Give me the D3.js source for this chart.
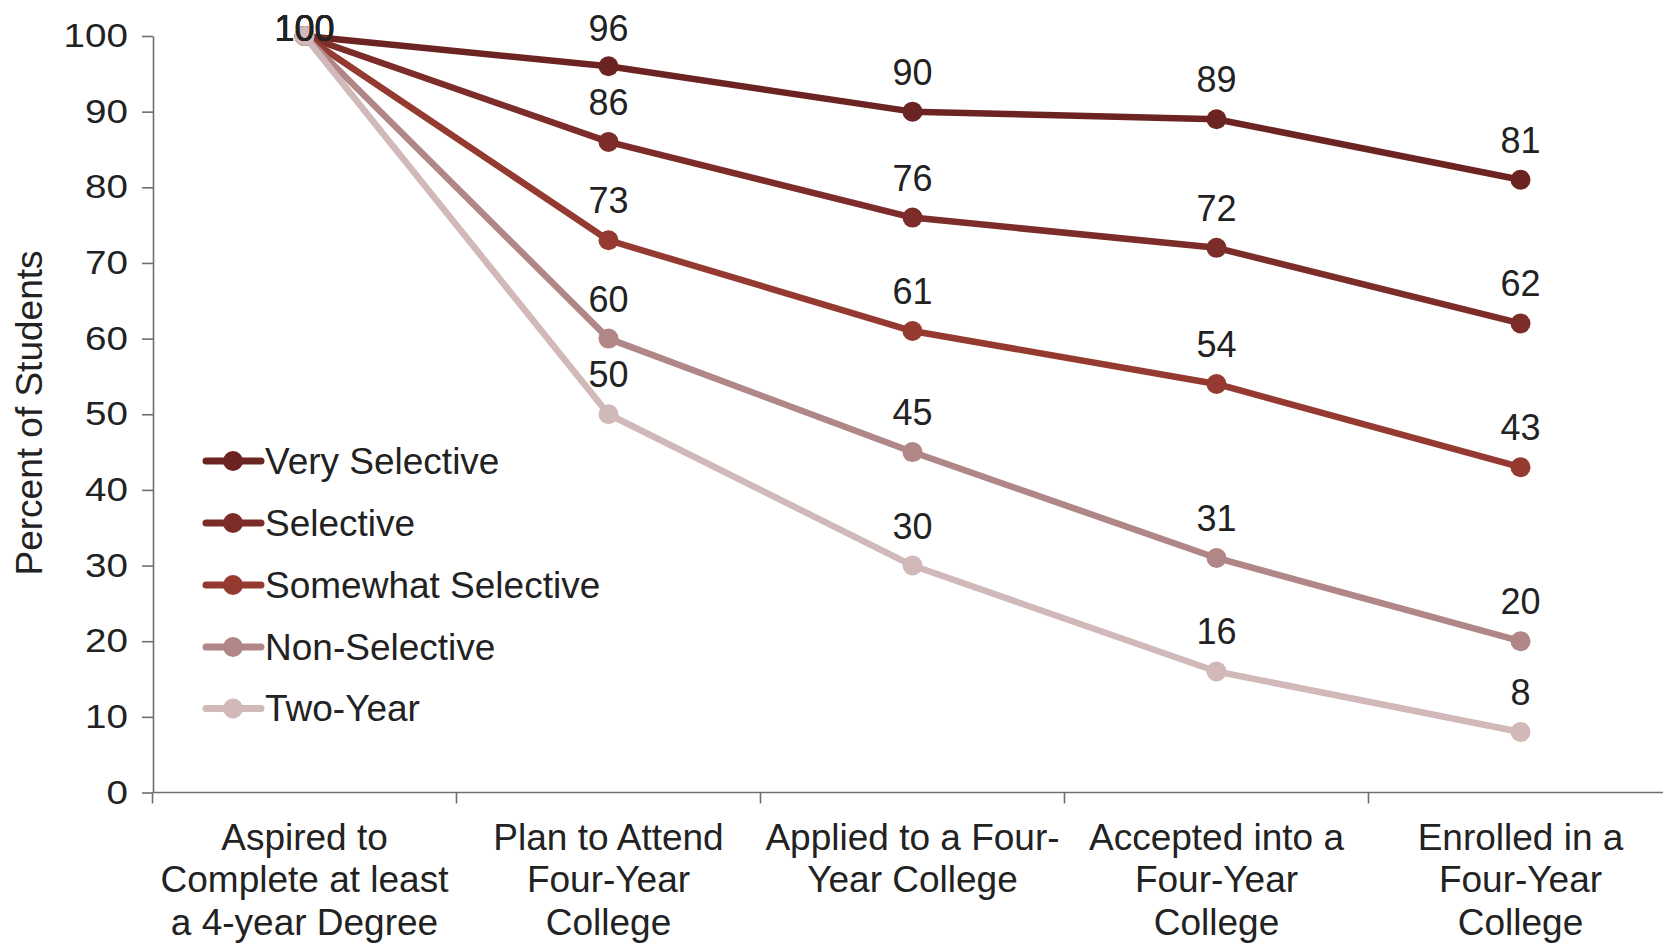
<!DOCTYPE html>
<html>
<head>
<meta charset="utf-8">
<script src="https://cdn.jsdelivr.net/npm/d3@7"></script>
<style>
  html, body { margin: 0; padding: 0; background: #fff; }
  svg { display: block; font-family: "Liberation Sans", Arial, sans-serif; }
</style>
</head>
<body>
<svg id="chart" width="1663" height="943"></svg>
<script>
// ---- data ----
const categories = ["c1", "c2", "c3", "c4", "c5"];
const categoryLabels = [
  ["Aspired to", "Complete at least", "a 4-year Degree"],
  ["Plan to Attend", "Four-Year", "College"],
  ["Applied to a Four-", "Year College"],
  ["Accepted into a", "Four-Year", "College"],
  ["Enrolled in a", "Four-Year", "College"]
];
const seriesNames = ["Very Selective", "Selective", "Somewhat Selective", "Non-Selective", "Two-Year"];
const verySelective      = [100, 96, 90, 89, 81];
const selective          = [100, 86, 76, 72, 62];
const somewhatSelective  = [100, 73, 61, 54, 43];
const nonSelective       = [100, 60, 45, 31, 20];
const twoYear            = [100, 50, 30, 16, 8];
const seriesColors = ["#6c2422", "#7c2d29", "#953a30", "#b08686", "#d0b9b8"];
const yTicks = [0, 10, 20, 30, 40, 50, 60, 70, 80, 90, 100];
const yTitle = "Percent of Students";

const seriesValues = [verySelective, selective, somewhatSelective, nonSelective, twoYear];
const series = seriesNames.map((name, i) => ({
  name, color: seriesColors[i],
  values: seriesValues[i].map((v, j) => ({ cat: categories[j], v }))
}));

// ---- layout ----
const svg = d3.select("#chart");
const x = d3.scaleBand().domain(categories).range([152.5, 1672.5]).padding(0);
const y = d3.scaleLinear().domain([0, 100]).range([792.5, 36]);
const cx = d => x(d) + x.bandwidth() / 2;
const axisColor = "#6f6f6f";
const textColor = "#222";

// Y axis
const tickStretch = 1.17;
const yAxis = svg.append("g")
  .attr("transform", "translate(153,0)")
  .call(d3.axisLeft(y).tickValues(yTicks).tickSize(11).tickSizeOuter(0).tickPadding(14));
yAxis.select(".domain").attr("stroke", axisColor).attr("stroke-width", 1.6);
yAxis.selectAll(".tick line").attr("stroke", axisColor).attr("stroke-width", 1.6);
yAxis.selectAll(".tick text")
  .attr("fill", textColor)
  .attr("x", -25 / tickStretch)
  .attr("transform", `scale(${tickStretch},1)`)
  .style("font-size", "33px")
  .style("font-family", "'Liberation Sans', Arial, sans-serif");

// X axis: domain line + boundary ticks
const xg = svg.append("g");
xg.append("line")
  .attr("x1", 153).attr("x2", 1663)
  .attr("y1", y(0)).attr("y2", y(0))
  .attr("stroke", axisColor).attr("stroke-width", 1.6);
xg.selectAll("line.bt").data(categories).enter().append("line")
  .attr("class", "bt")
  .attr("x1", d => x(d)).attr("x2", d => x(d))
  .attr("y1", y(0)).attr("y2", y(0) + 11)
  .attr("stroke", axisColor).attr("stroke-width", 1.6);

// Category labels
const labG = xg.selectAll("text.cat").data(categories).enter().append("text")
  .attr("class", "cat")
  .attr("text-anchor", "middle")
  .attr("fill", textColor)
  .style("font-size", "37px");
labG.each(function(d, i) {
  const t = d3.select(this);
  categoryLabels[i].forEach((line, k) => {
    t.append("tspan")
      .attr("x", cx(d))
      .attr("y", y(0) + 57 + k * 42.5)
      .text(line);
  });
});

// Y title
svg.append("text")
  .attr("transform", `translate(42,413) rotate(-90)`)
  .attr("text-anchor", "middle")
  .attr("fill", textColor)
  .style("font-size", "37px")
  .text(yTitle);

// Lines & markers
const line = d3.line().x(d => cx(d.cat)).y(d => y(d.v));
const sg = svg.selectAll("g.series").data(series).enter().append("g").attr("class", "series");
sg.append("path")
  .attr("d", d => line(d.values))
  .attr("fill", "none")
  .attr("stroke", d => d.color)
  .attr("stroke-width", 6.5)
  .attr("stroke-linejoin", "round");
sg.selectAll("circle").data(d => d.values.map(p => ({ ...p, color: d.color }))).enter().append("circle")
  .attr("cx", d => cx(d.cat))
  .attr("cy", d => y(d.v))
  .attr("r", 10)
  .attr("fill", d => d.color);

// Data labels
series.forEach(s => {
  svg.append("g").selectAll("text").data(s.values).enter().append("text")
    .attr("x", d => cx(d.cat))
    .attr("y", d => Math.max(y(d.v) - 27, 41))
    .attr("text-anchor", "middle")
    .attr("fill", textColor)
    .style("font-size", "36px")
    .text(d => d.v);
});

// Legend
const legend = svg.append("g");
const legRowY = [461, 523, 585, 647, 708.5];
series.forEach((s, i) => {
  const g = legend.append("g").attr("transform", `translate(0,${legRowY[i]})`);
  g.append("line").attr("x1", 206).attr("x2", 261).attr("y1", 0).attr("y2", 0)
    .attr("stroke", s.color).attr("stroke-width", 7).attr("stroke-linecap", "round");
  g.append("circle").attr("cx", 233).attr("cy", 0).attr("r", 10).attr("fill", s.color);
  g.append("text").attr("x", 265).attr("y", 0).attr("dy", "0.35em")
    .attr("fill", textColor).style("font-size", "37px").text(s.name);
});
</script>
</body>
</html>
